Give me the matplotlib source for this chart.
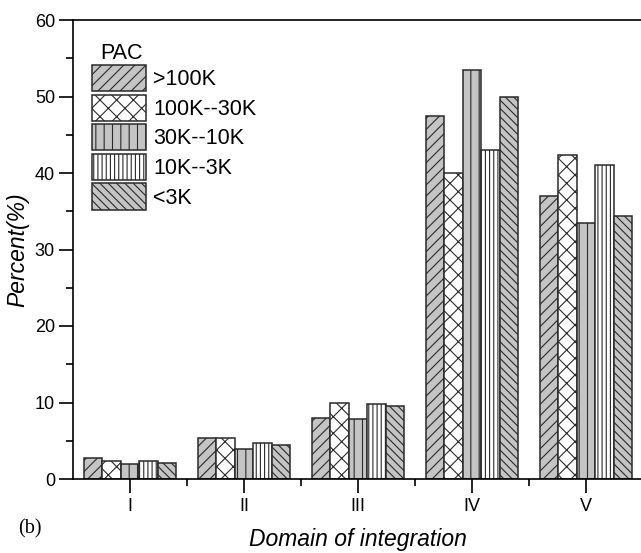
import matplotlib
matplotlib.use("Agg")
import matplotlib.pyplot as plt
import numpy as np
from matplotlib.ticker import MultipleLocator
from matplotlib.legend_handler import HandlerPatch
from matplotlib.patches import Rectangle

plt.rcParams['font.family'] = ['Liberation Sans', 'DejaVu Sans']
plt.rcParams['hatch.linewidth'] = 0.8

domains = ["I", "II", "III", "IV", "V"]
series_names = [">100K", "100K--30K", "30K--10K", "10K--3K", "<3K"]
v_gt100k = [2.7, 5.4, 8.0, 47.5, 37.0]
v_100_30 = [2.4, 5.4, 10.0, 40.0, 42.4]
v_30_10 = [1.9, 3.9, 7.8, 53.5, 33.5]
v_10_3 = [2.4, 4.7, 9.8, 43.0, 41.0]
v_lt3k = [2.1, 4.4, 9.5, 50.0, 34.4]
series_values = [v_gt100k, v_100_30, v_30_10, v_10_3, v_lt3k]

fills = ['#c4c4c4', '#ffffff', '#c4c4c4', '#ffffff', '#c4c4c4']
hatches = ['///', 'xx', '||', '||||', '\\\\\\\\']

fig = plt.figure(figsize=(6.41, 5.53), dpi=100)
ax = fig.add_axes([73/641, 1-479/553, 570/641, 459/553])

x = np.arange(1, len(domains) + 1)
w = 0.162
for i, (name, vals) in enumerate(zip(series_names, series_values)):
    ax.bar(x + (i - 2) * w, vals, width=w, color=fills[i], edgecolor='#2a2a2a',
           hatch=hatches[i], linewidth=1.1, label=name)

ax.set_xlim(0.5, 5.5)
ax.set_ylim(0, 60)
ax.set_xticks(x)
ax.set_xticklabels(domains)
ax.set_xticks([1.5, 2.5, 3.5, 4.5], minor=True)
ax.yaxis.set_major_locator(MultipleLocator(10))
ax.yaxis.set_minor_locator(MultipleLocator(5))
ax.tick_params(axis='both', which='major', direction='out', length=10, width=1.2,
               labelsize=13, pad=3)
ax.tick_params(axis='both', which='minor', direction='out', length=5, width=1.2)
ax.tick_params(axis='x', which='major', pad=4)
for s in ['left', 'bottom', 'top']:
    ax.spines[s].set_linewidth(1.2)
ax.spines['right'].set_visible(False)

ax.set_ylabel('Percent(%)', fontsize=16.5, style='italic', labelpad=4)
ax.set_xlabel('Domain of integration', fontsize=16.5, style='italic', labelpad=9)


def full_rect(legend, orig_handle, xdescent, ydescent, width, height, fontsize):
    return Rectangle((-xdescent, -ydescent), width, height)


leg = ax.legend(loc='upper left', bbox_to_anchor=(92/641, 1-65/553),
                bbox_transform=fig.transFigure, frameon=False, fontsize=15.5,
                handlelength=2.5, handleheight=1.5,
                labelspacing=0.155, handletextpad=0.33, borderpad=0, borderaxespad=0,
                handler_map={Rectangle: HandlerPatch(patch_func=full_rect)})

fig.text(100/641, 1-43/553, 'PAC', fontsize=15.5, ha='left', va='top')

fig.text(30/641, 1-529/553, '(b)', fontsize=14.5, family='Liberation Serif',
         ha='center', va='center')

fig.savefig('out.png', dpi=100)
